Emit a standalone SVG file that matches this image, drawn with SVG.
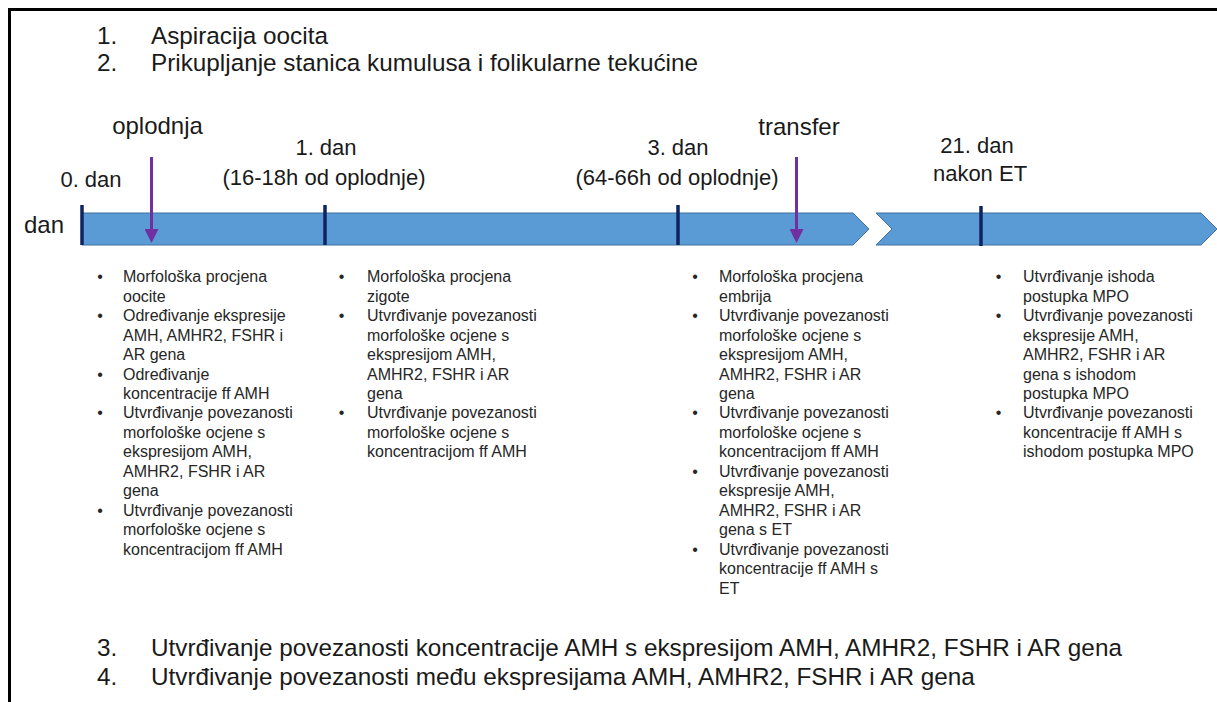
<svg xmlns="http://www.w3.org/2000/svg" width="1217" height="702" viewBox="0 0 1217 702">
<style>
  text { font-family: "Liberation Sans", Arial, sans-serif; fill: #1a1a1a; }
  .big { font-size: 24.3px; }
  .lbl { font-size: 22px; text-anchor: middle; }
  .lbl24 { font-size: 24px; text-anchor: middle; }
  .bt { font-size: 16px; fill: #262626; }
  .bul { font-size: 16px; text-anchor: middle; fill: #262626; }
  .bar { fill: #5B9BD5; stroke: #41719C; stroke-width: 1; }
  .tick { stroke: #0C2461; stroke-width: 3.5; }
  .parrow { stroke: #7030A0; stroke-width: 3; }
</style>
<defs>
  <marker id="ph" viewBox="0 0 14 14" markerWidth="14" markerHeight="14" refX="1" refY="7" orient="auto" markerUnits="userSpaceOnUse">
    <path d="M0,0 L14,7 L0,14 Z" fill="#7030A0"/>
  </marker>
</defs>
<rect width="1217" height="702" fill="#ffffff"/>
<g id="frame">
  <path d="M9.5,702 L9.5,9.5 L1217,9.5" fill="none" stroke="#000" stroke-width="3"/>
</g>
<g id="title-top">
  <text class="big" x="97" y="44">1.</text>
  <text class="big" x="151" y="44">Aspiracija oocita</text>
  <text class="big" x="97" y="71">2.</text>
  <text class="big" x="151" y="71">Prikupljanje stanica kumulusa i folikularne tekućine</text>
</g>
<g id="timeline">
  <path class="bar" d="M82,213 L853,213 L869,229 L853,245 L82,245 Z"/>
  <path class="bar" d="M876,213 L1201,213 L1217,229 L1201,245 L876,245 L892,229 Z"/>
  <text class="lbl24" x="44" y="233">dan</text>
</g>
<g id="ticks">
  <line class="tick" x1="82" y1="205" x2="82" y2="245"/>
  <line class="tick" x1="325" y1="205" x2="325" y2="245"/>
  <line class="tick" x1="678" y1="205" x2="678" y2="245"/>
  <line class="tick" x1="981" y1="206" x2="981" y2="246"/>
</g>
<g id="connectors">
  <line class="parrow" x1="151.5" y1="157" x2="151.5" y2="230" marker-end="url(#ph)"/>
  <line class="parrow" x1="796.5" y1="157" x2="796.5" y2="230" marker-end="url(#ph)"/>
</g>
<g id="event-labels">
  <text class="lbl24" x="157.5" y="134">oplodnja</text>
  <text class="lbl24" x="799" y="135">transfer</text>
</g>
<g id="day0">
  <text class="lbl" x="91" y="187">0. dan</text>
</g>
<g id="day1">
  <text class="lbl" x="326" y="155">1. dan</text>
  <text class="lbl" x="324" y="185">(16-18h od oplodnje)</text>
</g>
<g id="day3">
  <text class="lbl" x="678" y="155">3. dan</text>
  <text class="lbl" x="677" y="185">(64-66h od oplodnje)</text>
</g>
<g id="day21">
  <text class="lbl" x="977" y="153">21. dan</text>
  <text class="lbl" x="980" y="181">nakon ET</text>
</g>
<g id="col-day0">
  <text class="bul"><tspan x="100" y="282">•</tspan><tspan x="100" y="321">•</tspan><tspan x="100" y="379.5">•</tspan><tspan x="100" y="418">•</tspan><tspan x="100" y="515.5">•</tspan></text>
  <text class="bt">
    <tspan x="123" y="282">Morfološka procjena</tspan>
    <tspan x="123" y="301.5">oocite</tspan>
    <tspan x="123" y="321">Određivanje ekspresije</tspan>
    <tspan x="123" y="340.5">AMH, AMHR2, FSHR i</tspan>
    <tspan x="123" y="360">AR gena</tspan>
    <tspan x="123" y="379.5">Određivanje</tspan>
    <tspan x="123" y="399">koncentracije ff AMH</tspan>
    <tspan x="123" y="418">Utvrđivanje povezanosti</tspan>
    <tspan x="123" y="437.5">morfološke ocjene s</tspan>
    <tspan x="123" y="457">ekspresijom AMH,</tspan>
    <tspan x="123" y="476.5">AMHR2, FSHR i AR</tspan>
    <tspan x="123" y="496">gena</tspan>
    <tspan x="123" y="515.5">Utvrđivanje povezanosti</tspan>
    <tspan x="123" y="535">morfološke ocjene s</tspan>
    <tspan x="123" y="554.5">koncentracijom ff AMH</tspan>
  </text>
</g>
<g id="col-day1">
  <text class="bul"><tspan x="341.5" y="282">•</tspan><tspan x="341.5" y="321">•</tspan><tspan x="341.5" y="418">•</tspan></text>
  <text class="bt">
    <tspan x="367" y="282">Morfološka procjena</tspan>
    <tspan x="367" y="301.5">zigote</tspan>
    <tspan x="367" y="321">Utvrđivanje povezanosti</tspan>
    <tspan x="367" y="340.5">morfološke ocjene s</tspan>
    <tspan x="367" y="360">ekspresijom AMH,</tspan>
    <tspan x="367" y="379.5">AMHR2, FSHR i AR</tspan>
    <tspan x="367" y="399">gena</tspan>
    <tspan x="367" y="418">Utvrđivanje povezanosti</tspan>
    <tspan x="367" y="437.5">morfološke ocjene s</tspan>
    <tspan x="367" y="457">koncentracijom ff AMH</tspan>
  </text>
</g>
<g id="col-day3">
  <text class="bul"><tspan x="695" y="282">•</tspan><tspan x="695" y="321">•</tspan><tspan x="695" y="418">•</tspan><tspan x="695" y="476.5">•</tspan><tspan x="695" y="554.5">•</tspan></text>
  <text class="bt">
    <tspan x="719" y="282">Morfološka procjena</tspan>
    <tspan x="719" y="301.5">embrija</tspan>
    <tspan x="719" y="321">Utvrđivanje povezanosti</tspan>
    <tspan x="719" y="340.5">morfološke ocjene s</tspan>
    <tspan x="719" y="360">ekspresijom AMH,</tspan>
    <tspan x="719" y="379.5">AMHR2, FSHR i AR</tspan>
    <tspan x="719" y="399">gena</tspan>
    <tspan x="719" y="418">Utvrđivanje povezanosti</tspan>
    <tspan x="719" y="437.5">morfološke ocjene s</tspan>
    <tspan x="719" y="457">koncentracijom ff AMH</tspan>
    <tspan x="719" y="476.5">Utvrđivanje povezanosti</tspan>
    <tspan x="719" y="496">ekspresije AMH,</tspan>
    <tspan x="719" y="515.5">AMHR2, FSHR i AR</tspan>
    <tspan x="719" y="535">gena s ET</tspan>
    <tspan x="719" y="554.5">Utvrđivanje povezanosti</tspan>
    <tspan x="719" y="574">koncentracije ff AMH s</tspan>
    <tspan x="719" y="593.5">ET</tspan>
  </text>
</g>
<g id="col-day21">
  <text class="bul"><tspan x="998.5" y="282">•</tspan><tspan x="998.5" y="321">•</tspan><tspan x="998.5" y="418">•</tspan></text>
  <text class="bt">
    <tspan x="1023" y="282">Utvrđivanje ishoda</tspan>
    <tspan x="1023" y="301.5">postupka MPO</tspan>
    <tspan x="1023" y="321">Utvrđivanje povezanosti</tspan>
    <tspan x="1023" y="340.5">ekspresije AMH,</tspan>
    <tspan x="1023" y="360">AMHR2, FSHR i AR</tspan>
    <tspan x="1023" y="379.5">gena s ishodom</tspan>
    <tspan x="1023" y="399">postupka MPO</tspan>
    <tspan x="1023" y="418">Utvrđivanje povezanosti</tspan>
    <tspan x="1023" y="437.5">koncentracije ff AMH s</tspan>
    <tspan x="1023" y="457">ishodom postupka MPO</tspan>
  </text>
</g>
<g id="title-bottom">
  <text class="big" x="97" y="656">3.</text>
  <text class="big" x="151" y="656">Utvrđivanje povezanosti koncentracije AMH s ekspresijom AMH, AMHR2, FSHR i AR gena</text>
  <text class="big" x="97" y="685">4.</text>
  <text class="big" x="151" y="685">Utvrđivanje povezanosti među ekspresijama AMH, AMHR2, FSHR i AR gena</text>
</g>
</svg>
